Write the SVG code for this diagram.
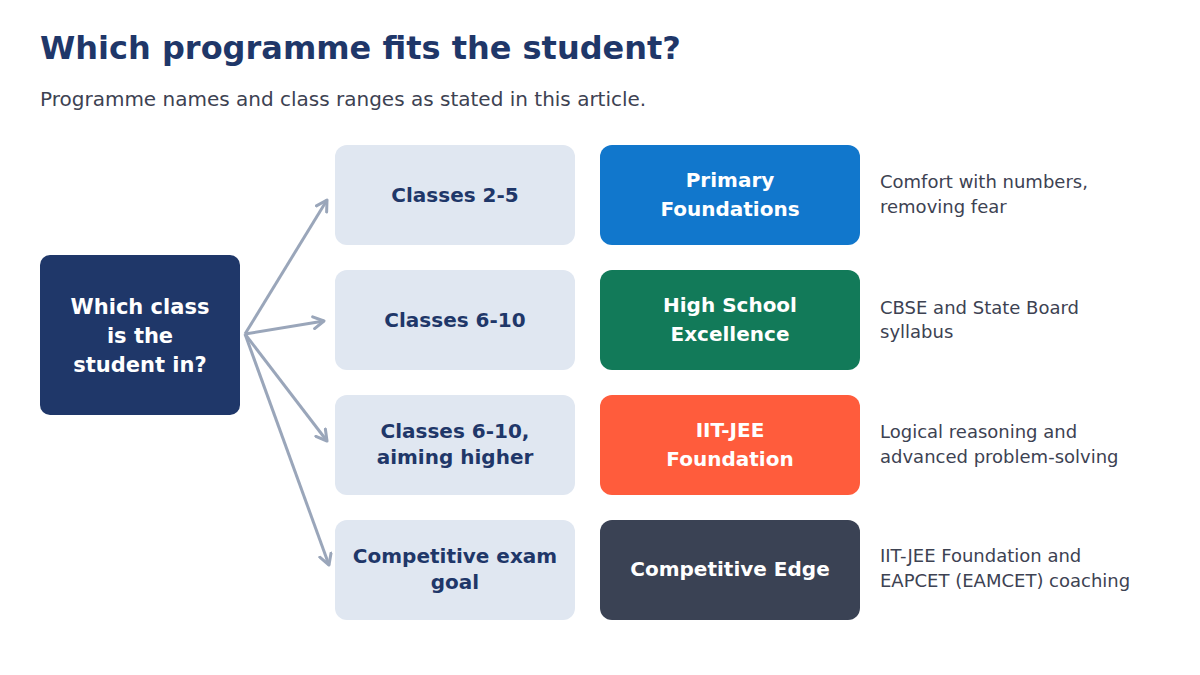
<svg xmlns="http://www.w3.org/2000/svg" width="1200" height="675" viewBox="0 0 1200 675">
<defs>
<style>
text{font-family:"DejaVu Sans",sans-serif}
.t{font-size:32px;font-weight:bold;fill:#1f3769}
.s{font-size:20px;fill:#3d4252}
.m rect{fill:#e0e7f1}
.m text{font-size:20px;font-weight:bold;fill:#1f3769;text-anchor:middle}
.r text{font-size:20px;font-weight:bold;fill:#fff;text-anchor:middle}
.d{font-size:18px;fill:#3d4252}
.c line{stroke:#9aa6ba;stroke-width:3;marker-end:url(#a)}
</style>
<marker id="a" viewBox="0 0 10 10" refX="8" refY="5" markerWidth="5" markerHeight="5" orient="auto" markerUnits="strokeWidth">
<path d="M1,1 L8,5 L1,9" fill="none" stroke="#9aa6ba" stroke-width="2" stroke-linecap="round" stroke-linejoin="round"/>
</marker>
</defs>
<rect width="1200" height="675" fill="#fff"/>
<text class="t" x="40" y="59">Which programme fits the student?</text>
<text class="s" x="40" y="106">Programme names and class ranges as stated in this article.</text>
<g class="c">
<line x1="245" y1="334" x2="327" y2="200"/>
<line x1="245" y1="334" x2="324" y2="321"/>
<line x1="245" y1="334" x2="327" y2="441"/>
<line x1="245" y1="334" x2="329" y2="565"/>
</g>
<g id="start"><rect x="40" y="255" width="200" height="160" rx="10" fill="#1f3769"/>
<text x="140" y="314" font-size="21" font-weight="bold" fill="#fff" text-anchor="middle">Which class</text>
<text x="140" y="343" font-size="21" font-weight="bold" fill="#fff" text-anchor="middle">is the</text>
<text x="140" y="372" font-size="21" font-weight="bold" fill="#fff" text-anchor="middle">student in?</text></g>
<g id="m1" class="m"><rect x="335" y="145" width="240" height="100" rx="12"/><text x="455" y="202">Classes 2-5</text></g>
<g id="m2" class="m"><rect x="335" y="270" width="240" height="100" rx="12"/><text x="455" y="327">Classes 6-10</text></g>
<g id="m3" class="m"><rect x="335" y="395" width="240" height="100" rx="12"/><text x="455" y="438">Classes 6-10,</text><text x="455" y="464">aiming higher</text></g>
<g id="m4" class="m"><rect x="335" y="520" width="240" height="100" rx="12"/><text x="455" y="563">Competitive exam</text><text x="455" y="589">goal</text></g>
<g id="r1" class="r"><rect x="600" y="145" width="260" height="100" rx="12" fill="#1177cc"/><text x="730" y="187">Primary</text><text x="730" y="216">Foundations</text></g>
<g id="r2" class="r"><rect x="600" y="270" width="260" height="100" rx="12" fill="#127a59"/><text x="730" y="312">High School</text><text x="730" y="341">Excellence</text></g>
<g id="r3" class="r"><rect x="600" y="395" width="260" height="100" rx="12" fill="#ff5c3c"/><text x="730" y="437">IIT-JEE</text><text x="730" y="466">Foundation</text></g>
<g id="r4" class="r"><rect x="600" y="520" width="260" height="100" rx="12" fill="#3a4254"/><text x="730" y="576">Competitive Edge</text></g>
<text class="d" x="880" y="188">Comfort with numbers,</text><text class="d" x="880" y="213">removing fear</text>
<text class="d" x="880" y="314">CBSE and State Board</text><text class="d" x="880" y="338">syllabus</text>
<text class="d" x="880" y="438">Logical reasoning and</text><text class="d" x="880" y="463">advanced problem-solving</text>
<text class="d" x="880" y="562">IIT-JEE Foundation and</text><text class="d" x="880" y="587">EAPCET (EAMCET) coaching</text>
</svg>
